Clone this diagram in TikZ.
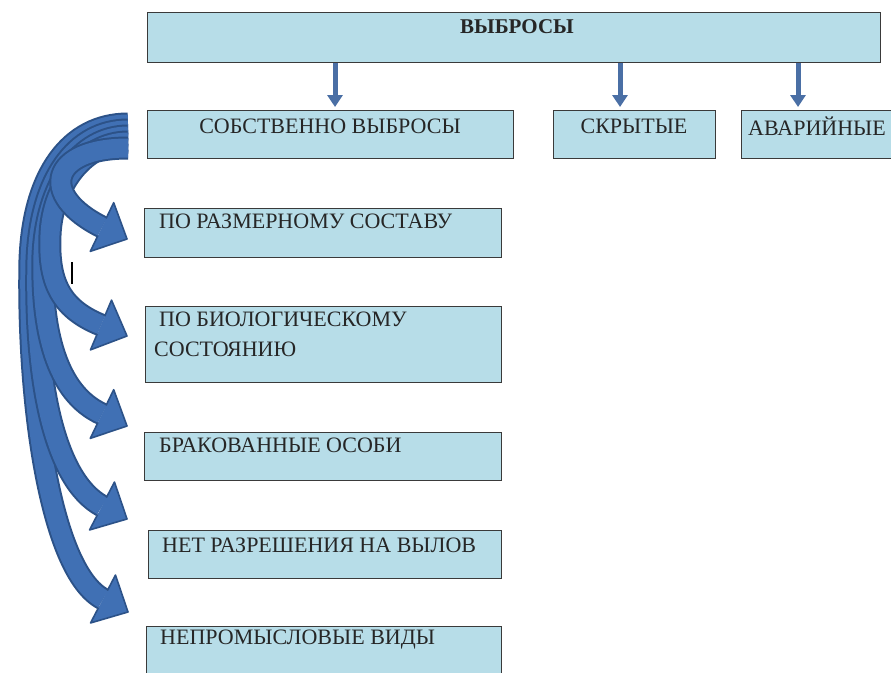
\documentclass[tikz,border=0pt]{standalone}
\usepackage{fontspec}
\setmainfont{Liberation Serif}
\usetikzlibrary{calc,arrows.meta}
\definecolor{boxfill}{HTML}{B7DDE8}
\definecolor{boxline}{HTML}{3A3A3A}
\definecolor{arrfill}{HTML}{4070B4}
\definecolor{arrline}{HTML}{2C5288}
\definecolor{downarr}{HTML}{4A6FA5}
% #1 = shaft path ending at #2, #2 = head base, #3 = head tip
\newcommand{\curvedarrow}[3]{%
  \draw[arrline, line width=23pt] #1;
  \draw[arrfill, line width=19pt] #1;
  \fill[arrfill] ($(#2)!11pt!90:(#3)$) -- ($(#2)!27pt!90:(#3)$) -- (#3) -- ($(#2)!27pt!-90:(#3)$) -- ($(#2)!11pt!-90:(#3)$) -- cycle;
  \draw[arrline, line width=1.6pt, line join=round] ($(#2)!9.5pt!90:(#3)$) -- ($(#2)!27pt!90:(#3)$) -- (#3) -- ($(#2)!27pt!-90:(#3)$) -- ($(#2)!9.5pt!-90:(#3)$);
}
\begin{document}
\begin{tikzpicture}[x=1pt,y=-1pt,
  box/.style={draw=boxline, line width=1.2pt, fill=boxfill, anchor=north west, inner sep=0pt},
  lbl/.style={font=\fontsize{22}{30}\selectfont, inner sep=0pt, text=black!85},
  downarrow/.style={draw=downarr, line width=5pt, -{Triangle[length=12pt,width=15pt]}, shorten >=3pt},
]
\useasboundingbox (0,0) rectangle (891,672);
\fill[white] (0,0) rectangle (891,672);

% boxes
\node[box, minimum width=733pt, minimum height=50pt] (top) at (147,12) {};
\node[box, minimum width=366pt, minimum height=48pt] (own) at (147,110) {};
\node[box, minimum width=162pt, minimum height=48pt] (hid) at (553,110) {};
\node[box, minimum width=170pt, minimum height=48pt] (acc) at (741,110) {};
\node[box, minimum width=357pt, minimum height=49pt] (b1) at (144,208) {};
\node[box, minimum width=356pt, minimum height=76pt] (b2) at (145,306) {};
\node[box, minimum width=357pt, minimum height=48pt] (b3) at (144,432) {};
\node[box, minimum width=353pt, minimum height=48pt] (b4) at (148,530) {};
\node[box, minimum width=355pt, minimum height=60pt] (b5) at (146,626) {};

% texts
\node[lbl, font=\fontsize{21}{24}\selectfont\bfseries] (ttop) at (517,27) {ВЫБРОСЫ};
\node[lbl] (town) at (330,126) {СОБСТВЕННО ВЫБРОСЫ};
\node[lbl] (thid) at (634,126) {СКРЫТЫЕ};
\node[lbl, anchor=west] (tacc) at (748,126) {АВАРИЙНЫЕ};
\node[lbl, anchor=west] (t1) at (159,221) {ПО РАЗМЕРНОМУ СОСТАВУ};
\node[lbl, anchor=north west, align=left] (t2) at (154,312) {\hspace*{5pt}ПО БИОЛОГИЧЕСКОМУ\\СОСТОЯНИЮ};
\node[lbl, anchor=west] (t3) at (159,445) {БРАКОВАННЫЕ ОСОБИ};
\node[lbl, anchor=west] (t4) at (162,545) {НЕТ РАЗРЕШЕНИЯ НА ВЫЛОВ};
\node[lbl, anchor=west] (t5) at (160,640) {НЕПРОМЫСЛОВЫЕ ВИДЫ};

% down arrows
\coordinate (x1) at (335,0);
\coordinate (x2) at (620,0);
\coordinate (x3) at (798,0);
\draw[downarrow] (top.south -| x1) -- (own.north -| x1);
\draw[downarrow] (top.south -| x2) -- (hid.north -| x2);
\draw[downarrow] (top.south -| x3) -- (acc.north -| x3);

% curved arrows: start points, head bases, tips
\coordinate (s5) at (128,124); \coordinate (e5) at (103,599); \coordinate (h5) at (128,612);
\coordinate (s4) at (128,130); \coordinate (e4) at (102,506); \coordinate (h4) at (127,519);
\coordinate (s3) at (128,136); \coordinate (e3) at (102,414); \coordinate (h3) at (127,426);
\coordinate (s2) at (128,142); \coordinate (e2) at (101,325); \coordinate (h2) at (127,336);
\coordinate (s1) at (128,148); \coordinate (e1) at (102,227); \coordinate (h1) at (127,239);
\curvedarrow{(s5) .. controls (70,124) and (33,175) .. (30,260) .. controls (27,400) and (50,571) .. (e5)}{e5}{h5}
\curvedarrow{(s4) .. controls (75,130) and (40,180) .. (37,260) .. controls (34,380) and (54,480) .. (e4)}{e4}{h4}
\curvedarrow{(s3) .. controls (80,136) and (46,185) .. (43,255) .. controls (41,330) and (56,393) .. (e3)}{e3}{h3}
\curvedarrow{(s2) .. controls (85,142) and (52,185) .. (50,235) .. controls (48,280) and (59,308) .. (e2)}{e2}{h2}
\curvedarrow{(s1) .. controls (50,148) and (38,195) .. (e1)}{e1}{h1}

% stray mark
\draw[line width=1.3pt] (72,262) -- (72,284);
\end{tikzpicture}
\end{document}
